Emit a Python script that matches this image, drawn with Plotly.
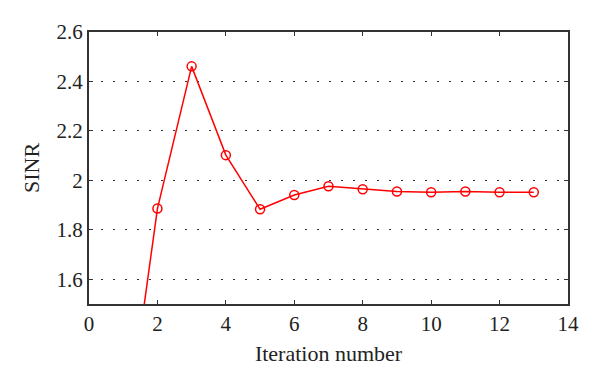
import plotly.graph_objects as go

iterations = [1, 2, 3, 4, 5, 6, 7, 8, 9, 10, 11, 12, 13]
sinr = [0.88, 1.886, 2.461, 2.102, 1.883, 1.941, 1.976, 1.964, 1.955, 1.952, 1.955, 1.952, 1.952]
x_ticks = [0, 2, 4, 6, 8, 10, 12, 14]
y_ticks = [1.6, 1.8, 2.0, 2.2, 2.4, 2.6]
y_tick_labels = ["1.6", "1.8", "2", "2.2", "2.4", "2.6"]

fig = go.Figure()
fig.add_trace(go.Scatter(
    x=iterations, y=sinr, mode="lines+markers",
    line=dict(color="#ff0000", width=1.5),
    marker=dict(symbol="circle-open", size=9, color="#ff0000", line=dict(width=1.5)),
    cliponaxis=True,
))

family = "Liberation Serif, Times New Roman, serif"
tick_font = dict(family=family, size=21, color="#222222")
title_font = dict(family=family, size=22, color="#222222")
fig.update_layout(
    width=600, height=392,
    margin=dict(l=89, r=32, t=32, b=88),
    paper_bgcolor="white", plot_bgcolor="white",
    showlegend=False, font=tick_font,
)
fig.update_xaxes(
    range=[0, 14], tickvals=x_ticks, showgrid=False, zeroline=False,
    showline=True, linecolor="#333333", linewidth=2, mirror="ticks",
    ticks="inside", ticklen=4, tickcolor="#333333",
    title=dict(text="Iteration number", font=title_font, standoff=10),
    tickfont=tick_font, automargin=False,
)
fig.update_yaxes(
    range=[1.5, 2.6], tickvals=y_ticks, ticktext=y_tick_labels,
    showgrid=True, gridcolor="#333333", gridwidth=1, griddash="2px,10px",
    zeroline=False,
    showline=True, linecolor="#333333", linewidth=2, mirror="ticks",
    ticks="inside", ticklen=4, tickcolor="#333333",
    title=dict(text="SINR", font=title_font, standoff=11),
    tickfont=tick_font, automargin=False,
)
fig.write_html("out.html", config={"displayModeBar": False},
               post_script="document.body.style.margin='0';")
